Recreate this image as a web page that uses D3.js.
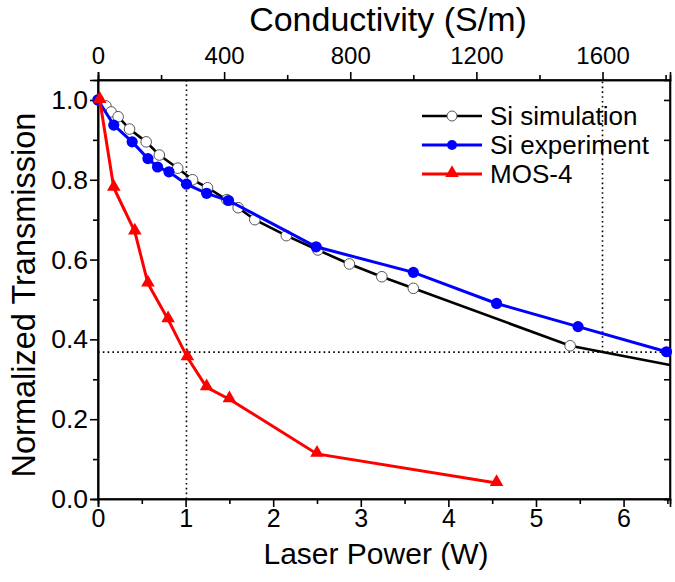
<!DOCTYPE html>
<html><head><meta charset="utf-8">
<script src="https://cdn.jsdelivr.net/npm/d3@7"></script>
<style>
body{margin:0;background:#fff;}
svg{display:block;font-family:"Liberation Sans",Arial,sans-serif;}
</style></head>
<body>
<svg id="c" width="675" height="582"></svg>
<script>
// ---- data ----
const simPower = [0, 0.09, 0.15, 0.23, 0.36, 0.55, 0.70, 0.91, 1.08, 1.25, 1.47, 1.60, 1.79, 2.15, 2.51, 2.87, 3.24, 3.60, 5.39, 6.53];
const simTrans = [1.0, 0.985, 0.97, 0.958, 0.927, 0.895, 0.862, 0.829, 0.80, 0.78, 0.75, 0.73, 0.70, 0.66, 0.624, 0.589, 0.557, 0.528, 0.384, 0.336];
const simMarker = [1,1,1,1,1,1,1,1,1,1,1,1,1,1,1,1,1,1,1,0];
const expPower = [0, 0.18, 0.39, 0.57, 0.68, 0.81, 1.01, 1.24, 1.49, 2.49, 3.60, 4.55, 5.48, 6.49];
const expTrans = [1.0, 0.937, 0.895, 0.853, 0.832, 0.82, 0.789, 0.766, 0.748, 0.632, 0.568, 0.49, 0.432, 0.369];
const mosPower = [0.02, 0.18, 0.42, 0.57, 0.80, 1.02, 1.24, 1.50, 2.50, 4.55];
const mosTrans = [1.0, 0.78, 0.67, 0.54, 0.45, 0.355, 0.28, 0.25, 0.113, 0.04];
const seriesNames = ["Si simulation", "Si experiment", "MOS-4"];
const xTicks = [0, 1, 2, 3, 4, 5, 6];
const yTicks = [0.0, 0.2, 0.4, 0.6, 0.8, 1.0];
const topTicks = [0, 400, 800, 1200, 1600];
const refTrans = 0.368;      // 1/e guide
const refPowerA = 1.01;      // vertical guide (W)
const refCondB = 1600;       // vertical guide (S/m)

// ---- layout ----
const W = 675, H = 582;
const m = {l: 98, r: 5, t: 80, b: 83};
const svg = d3.select("#c");
const x = d3.scaleLinear().domain([0, 6.53]).range([m.l, W - m.r]);
const y = d3.scaleLinear().domain([0, 1.05]).range([H - m.b, m.t]);
const xTop = d3.scaleLinear().domain([0, 1814]).range([m.l, W - m.r]);

// dotted guides
const g0 = svg.append("g").attr("stroke", "#000").attr("stroke-width", 1.6).attr("stroke-dasharray", "1.6,3.2").attr("fill", "none");
g0.append("line").attr("x1", x(0)).attr("x2", x(6.53)).attr("y1", y(refTrans)).attr("y2", y(refTrans));
g0.append("line").attr("x1", x(refPowerA)).attr("x2", x(refPowerA)).attr("y1", y(0)).attr("y2", y(1.05));
g0.append("line").attr("x1", xTop(refCondB)).attr("x2", xTop(refCondB)).attr("y1", y(refTrans)).attr("y2", y(1.05));

// axes
const gBottom = svg.append("g").attr("transform", `translate(0,${y(0)})`)
  .call(d3.axisBottom(x).tickValues(xTicks).tickFormat(d3.format("d")).tickSize(8).tickPadding(2));
const gBottomMinor = svg.append("g").attr("transform", `translate(0,${y(0)})`)
  .call(d3.axisBottom(x).tickValues(d3.range(0.5, 6.6, 1)).tickFormat("").tickSize(5));
const gLeft = svg.append("g").attr("transform", `translate(${x(0)},0)`)
  .call(d3.axisLeft(y).tickValues(yTicks).tickFormat(d3.format(".1f")).tickSize(8).tickPadding(2));
const gLeftMinor = svg.append("g").attr("transform", `translate(${x(0)},0)`)
  .call(d3.axisLeft(y).tickValues(d3.range(0.1, 1.01, 0.2)).tickFormat("").tickSize(5));
const gTop = svg.append("g").attr("transform", `translate(0,${y(1.05)})`)
  .call(d3.axisTop(xTop).tickValues(topTicks).tickFormat(d3.format("d")).tickSize(8).tickPadding(8));
const gTopMinor = svg.append("g").attr("transform", `translate(0,${y(1.05)})`)
  .call(d3.axisTop(xTop).tickValues(d3.range(200, 1801, 400)).tickFormat("").tickSize(5));
const gRight = svg.append("g").attr("transform", `translate(${x(6.53)},0)`)
  .call(d3.axisRight(y).tickValues(d3.range(0, 1.01, 0.1)).tickFormat("").tickSize(-6));
[gBottom, gBottomMinor, gLeft, gLeftMinor, gTop, gTopMinor, gRight].forEach(g => {
  g.selectAll(".domain").attr("stroke", "#000").attr("stroke-width", 1.6);
  g.selectAll(".tick line").attr("stroke", "#000").attr("stroke-width", 1.6);
  g.selectAll("text").attr("font-size", "25px").attr("fill", "#000").attr("font-family", "Liberation Sans, Arial, sans-serif");
});
gLeft.selectAll("text").attr("font-size", "26.5px");
gTop.selectAll("text").attr("font-size", "24px");
svg.append("rect").attr("x", x(0)).attr("y", y(1.05)).attr("width", x(6.53) - x(0)).attr("height", y(0) - y(1.05))
  .attr("fill", "none").attr("stroke", "#000").attr("stroke-width", 1.6);

// titles
svg.append("text").attr("x", 376).attr("y", 564).attr("text-anchor", "middle").attr("font-size", "30px").text("Laser Power (W)");
svg.append("text").attr("x", 388).attr("y", 31).attr("text-anchor", "middle").attr("font-size", "34px").text("Conductivity (S/m)");
svg.append("text").attr("transform", `translate(35,295) rotate(-90)`).attr("text-anchor", "middle").attr("font-size", "32.5px").text("Normalized Transmission");

// series
const line = d3.line().x(d => x(d[0])).y(d => y(d[1]));
const sim = simPower.map((p, i) => [p, simTrans[i], simMarker[i]]);
const exp = expPower.map((p, i) => [p, expTrans[i]]);
const mos = mosPower.map((p, i) => [p, mosTrans[i]]);
const tri = d3.symbol().type(d3.symbolTriangle).size(80);

svg.append("path").datum(sim).attr("d", line).attr("fill", "none").attr("stroke", "#000").attr("stroke-width", 2.6);
svg.append("g").selectAll("circle").data(sim.filter(d => d[2])).join("circle")
  .attr("cx", d => x(d[0])).attr("cy", d => y(d[1])).attr("r", 5.3)
  .attr("fill", "#fff").attr("stroke", "#555").attr("stroke-width", 1);

svg.append("path").datum(exp).attr("d", line).attr("fill", "none").attr("stroke", "#0000ff").attr("stroke-width", 3);
svg.append("g").selectAll("circle").data(exp).join("circle")
  .attr("cx", d => x(d[0])).attr("cy", d => y(d[1])).attr("r", 5.6).attr("fill", "#0000ff");

svg.append("path").datum(mos).attr("d", line).attr("fill", "none").attr("stroke", "#ff0000").attr("stroke-width", 3);
svg.append("g").selectAll("path").data(mos).join("path")
  .attr("transform", d => `translate(${x(d[0])},${y(d[1]) - 1})`).attr("d", tri).attr("fill", "#ff0000");

// legend
const lg = svg.append("g");
const lx1 = 422, lx2 = 482, ly0 = 116, ldy = 29;
const lcol = ["#000", "#0000ff", "#ff0000"];
seriesNames.forEach((n, i) => {
  const yy = ly0 + i * ldy;
  lg.append("line").attr("x1", lx1).attr("x2", lx2).attr("y1", yy).attr("y2", yy).attr("stroke", lcol[i]).attr("stroke-width", i === 0 ? 2.6 : 3);
  const cx = (lx1 + lx2) / 2;
  if (i === 0) lg.append("circle").attr("cx", cx).attr("cy", yy).attr("r", 5).attr("fill", "#fff").attr("stroke", "#555");
  else if (i === 1) lg.append("circle").attr("cx", cx).attr("cy", yy).attr("r", 5).attr("fill", "#0000ff");
  else lg.append("path").attr("transform", `translate(${cx},${yy - 1})`).attr("d", tri).attr("fill", "#ff0000");
  lg.append("text").attr("x", 490).attr("y", yy + 9).attr("font-size", "26px").text(n);
});
</script>
</body></html>
